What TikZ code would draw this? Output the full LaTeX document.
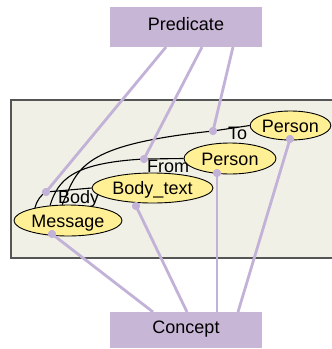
\documentclass[tikz,border=0pt]{standalone}
\usepackage{fontspec}
\setmainfont{Liberation Sans}
\usetikzlibrary{shapes.geometric}
\pgfdeclarelayer{back}
\pgfsetlayers{back,main}

\definecolor{boxfill}{RGB}{200,182,214}
\definecolor{linkpurple}{RGB}{195,178,215}
\definecolor{panelfill}{RGB}{240,240,230}
\definecolor{termfill}{RGB}{255,240,150}
\definecolor{panelline}{RGB}{85,85,85}

\begin{document}
\begin{tikzpicture}[x=1pt,y=-1pt,
  txt/.style={font=\fontsize{18}{20}\selectfont},
  box/.style={txt, fill=boxfill, inner xsep=0pt, inner ysep=0pt, minimum width=152pt},
  term/.style={txt, ellipse, draw=black, line width=0.9pt, fill=termfill,
               inner sep=0pt, text height=13pt, text depth=0pt},
  rel/.style={txt, inner sep=0pt, anchor=base west},
  link/.style={draw=black, line width=1.1pt},
  attach/.style={draw=linkpurple, line width=2.8pt},
  dot/.style={circle, fill=linkpurple, inner sep=0pt, minimum size=8pt}
]
\useasboundingbox (0,0) rectangle (332,349);

% terms inside the graph panel
\node[term, minimum width=108pt, minimum height=31pt] (msg)  at (68,220.5)  {Message};
\node[term, minimum width=121pt, minimum height=30pt] (body) at (152.5,188) {Body\_text};
\node[term, minimum width=92pt,  minimum height=31pt] (from) at (230,158.5) {Person};
\node[term, minimum width=80pt,  minimum height=29pt] (to)   at (290.5,125.5) {Person};

% relation points
\node[dot] (rBody) at (46,192)  {};
\node[dot] (rFrom) at (144,159) {};
\node[dot] (rTo)   at (213,131) {};

% attachment points on the terms
\node[dot] (aMsg)  at (52,234)  {};
\node[dot] (aBody) at (136,206) {};
\node[dot] (aFrom) at (217,173) {};
\node[dot] (aTo)   at (290,139) {};

% outer boxes
\node[box, text height=23pt, text depth=17pt] (pred) at (186,27)  {Predicate};
\node[box, text height=21pt, text depth=15pt] (conc) at (186,330) {Concept};

% ends of the attachment lines on the boxes
\coordinate (p1) at (166,47);
\coordinate (p2) at (202,47);
\coordinate (p3) at (233,47);
\coordinate (c1) at (153,312);
\coordinate (c2) at (187,312);
\coordinate (c3) at (217,312);
\coordinate (c4) at (238,312);

\begin{pgfonlayer}{back}
  % panel
  \fill[panelfill] (11,100) rectangle (345,258);
  \draw[panelline, line width=1.3pt] (345,100) -- (11,100) -- (11,258) -- (345,258);

  % relations between the terms
  \draw[link] (msg.159) .. controls (37,200) and (41,195) .. (rBody.center) -- (body.west);
  \draw[link] (msg.140) .. controls (58,180) and (72,163) .. (rFrom.center) -- (from.west);
  \draw[link] (msg.110) .. controls (78,168) and (80,145) .. (rTo.center) -- (to.west);

  % relation labels
  \node[rel] (lBody) at (58,203)  {Body};
  \node[rel] (lFrom) at (147,172) {From};
  \node[rel] (lTo)   at (228,139) {To};
\end{pgfonlayer}

% predicate and concept attachments
\draw[attach] (p1) -- (rBody.center);
\draw[attach] (p2) -- (rFrom.center);
\draw[attach] (p3) -- (rTo.center);
\draw[attach] (aMsg.center)  -- (c1);
\draw[attach] (aBody.center) -- (c2);
\draw[attach] (aFrom.center) -- (c3);
\draw[attach] (aTo.center)   -- (c4);

% dots on top of the lines
\foreach \d in {rBody,rFrom,rTo,aMsg,aBody,aFrom,aTo}
  \fill[linkpurple] (\d) circle (4pt);
\end{tikzpicture}
\end{document}
